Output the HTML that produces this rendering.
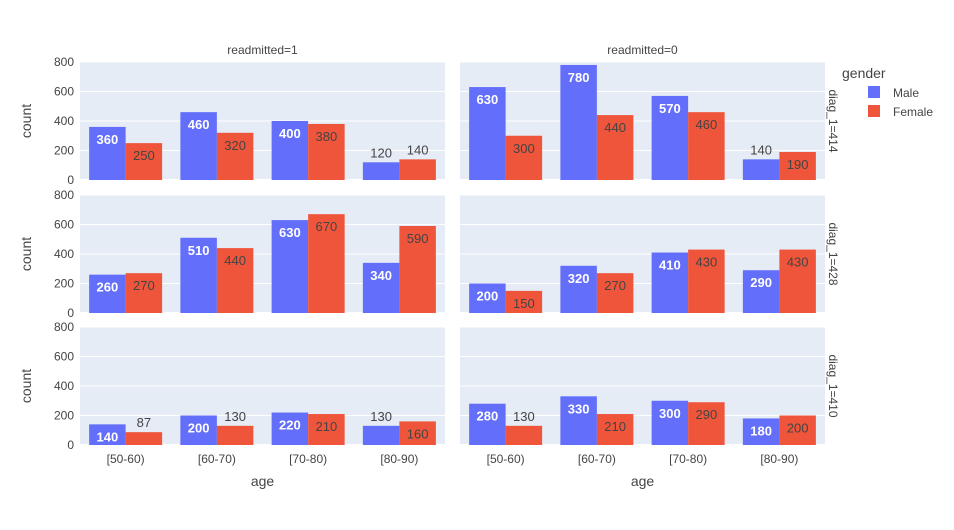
<!DOCTYPE html>
<html><head><meta charset="utf-8"><style>
body{margin:0;background:#fff;font-family:"Liberation Sans",Arial,sans-serif}
svg text{font-family:"Liberation Sans",Arial,sans-serif}
</style></head><body>
<svg id="chart" width="954" height="525" xmlns="http://www.w3.org/2000/svg"></svg>
<script>
const categories=["[50-60)","[60-70)","[70-80)","[80-90)"];
const colTitles=["readmitted=1","readmitted=0"];
const rowTitles=["diag_1=414","diag_1=428","diag_1=410"];
const yTicks=[0,200,400,600,800];
const male_r0_c0=[360,460,400,120], female_r0_c0=[250,320,380,140];
const male_r0_c1=[630,780,570,140], female_r0_c1=[300,440,460,190];
const male_r1_c0=[260,510,630,340], female_r1_c0=[270,440,670,590];
const male_r1_c1=[200,320,410,290], female_r1_c1=[150,270,430,430];
const male_r2_c0=[140,200,220,130], female_r2_c0=[87,130,210,160];
const male_r2_c1=[280,330,300,180], female_r2_c1=[130,210,290,200];
const maleData=[[male_r0_c0,male_r0_c1],[male_r1_c0,male_r1_c1],[male_r2_c0,male_r2_c1]];
const femaleData=[[female_r0_c0,female_r0_c1],[female_r1_c0,female_r1_c1],[female_r2_c0,female_r2_c1]];

const svg=document.getElementById('chart');
const NS="http://www.w3.org/2000/svg";
function mk(tag,attrs,parent){const e=document.createElementNS(NS,tag);for(const k in attrs)e.setAttribute(k,attrs[k]);(parent||svg).appendChild(e);return e;}
const colX=[[80,445],[460,825]];
const rowY=[[62,180],[195,313],[327,445]];
const yMax=800;
const MALE="#636efa",FEMALE="#EF553B";

for(let r=0;r<3;r++){
  const [y0,y1]=rowY[r];
  const yS=v=>y1-(v/yMax)*(y1-y0);
  for(let c=0;c<2;c++){
    const [x0,x1]=colX[c];
    const step=(x1-x0)/categories.length;
    const bg=mk('rect',{x:x0,y:y0,width:x1-x0,height:y1-y0,fill:'#e5ecf6'});
    
    
    yTicks.forEach(t=>{
      const g=mk('line',{x1:x0,x2:x1,y1:yS(t),y2:yS(t),stroke:'#fff','stroke-width':t===0?2:1});
      
      
      if(c===0){
        const tl=mk('text',{x:x0-6,y:yS(t)+4,'text-anchor':'end','font-size':12,fill:'#444'});
        tl.textContent=t;
        
        
      }
    });
    const bw=step*0.8/2;
    categories.forEach((cat,i)=>{
      const cx=x0+step*(i+0.5);
      [[maleData[r][c][i],MALE,cx-bw,'#fff','male'],[femaleData[r][c][i],FEMALE,cx,'#444','female']].forEach(([v,col,bx,tc,nm])=>{
        const top=yS(v);
        const b=mk('rect',{x:bx,y:top,width:bw,height:y1-top,fill:col});
        
        
        const inside=v>=140&&!(r===0&&v<150);
        const t=mk('text',{x:bx+bw/2,y:inside?top+17:top-5,'text-anchor':'middle','font-size':13,fill:inside?tc:'#444','font-weight':inside&&nm==='male'?'bold':'normal'});
        t.textContent=v;
        
        
      });
      if(r===2){
        const xl=mk('text',{x:cx,y:y1+18,'text-anchor':'middle','font-size':12,fill:'#444'});
        xl.textContent=cat;
        
        
      }
    });
    if(r===0){
      const ct=mk('text',{x:(x0+x1)/2,y:y0-8,'text-anchor':'middle','font-size':12,fill:'#444'});
      ct.textContent=colTitles[c];
      
      
    }
    if(r===2){
      const at=mk('text',{x:(x0+x1)/2,y:486,'text-anchor':'middle','font-size':14,fill:'#444'});
      at.textContent='age';
      
      
    }
  }
  const cy=(y0+y1)/2;
  const rt=mk('text',{x:829,y:cy,'text-anchor':'middle','font-size':12,fill:'#444',transform:`rotate(90 829 ${cy})`});
  rt.textContent=rowTitles[r];
  
  
  const yt=mk('text',{x:31,y:cy,'text-anchor':'middle','font-size':14,fill:'#444',transform:`rotate(-90 31 ${cy})`});
  yt.textContent='count';
  
  
}
const lt=mk('text',{x:842,y:78,'font-size':14,fill:'#444'});
lt.textContent='gender';


[['Male',MALE,92],['Female',FEMALE,111]].forEach(([n,col,y])=>{
  const s=mk('rect',{x:868,y:y-6,width:12,height:12,fill:col});
  
  
  const t=mk('text',{x:893,y:y+5,'font-size':12,fill:'#444'});
  t.textContent=n;
  
  
});
</script>
</body></html>
